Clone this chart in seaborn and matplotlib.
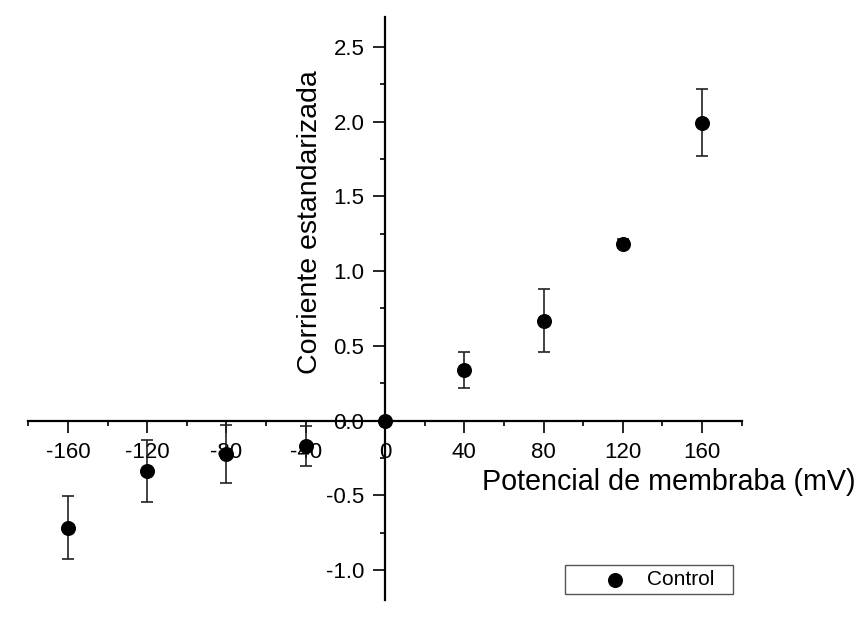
import matplotlib
matplotlib.use("Agg")
import matplotlib.pyplot as plt
import numpy as np
import pandas as pd
import seaborn as sns

# ---- data ----
potencial = [-160, -120, -80, -40, 0, 40, 80, 120, 160]
corriente = [-0.717, -0.338, -0.226, -0.168, 0.0, 0.338, 0.668, 1.181, 1.992]
error = [0.212, 0.21, 0.195, 0.134, 0.0, 0.122, 0.21, 0.03, 0.224]

x_ticks = [-160, -120, -80, -40, 0, 40, 80, 120, 160]
x_tick_labels = ["-160", "-120", "-80", "-40", "0", "40", "80", "120", "160"]
y_ticks = [-1.0, -0.5, 0.0, 0.5, 1.0, 1.5, 2.0, 2.5]
y_tick_labels = ["-1.0", "-0.5", "0.0", "0.5", "1.0", "1.5", "2.0", "2.5"]

sns.set_style("ticks")
plt.rcParams["font.family"] = ["Liberation Sans", "DejaVu Sans"]
plt.rcParams["axes.unicode_minus"] = False

fig = plt.figure(figsize=(8.56, 6.29), dpi=100)
fig.patch.set_facecolor("white")
ax = fig.add_axes([0.03306, 0.04626, 0.8334, 0.92695])
ax.set_facecolor("white")

df = pd.DataFrame({"potencial": potencial, "corriente": corriente, "error": error})

ax.errorbar(df["potencial"], df["corriente"], yerr=df["error"], fmt="none",
            ecolor="#222222", elinewidth=1.2, capsize=4.3, capthick=1.2,
            zorder=3, clip_on=False)
sns.scatterplot(data=df, x="potencial", y="corriente", color="black", s=117,
                linewidth=0, label="Control", zorder=4, clip_on=False, ax=ax)

ax.set_xlim(-180, 180)
ax.set_ylim(-1.2, 2.7)

for side in ["top", "right"]:
    ax.spines[side].set_visible(False)
ax.spines["left"].set_position(("data", 0))
ax.spines["bottom"].set_position(("data", 0))
for side in ["left", "bottom"]:
    ax.spines[side].set_linewidth(1.6)
    ax.spines[side].set_color("black")
    ax.spines[side].set_zorder(2.5)

ax.set_xticks(x_ticks)
ax.set_xticklabels(x_tick_labels)
ax.set_yticks(y_ticks)
ax.set_yticklabels(y_tick_labels)
ax.xaxis.set_minor_locator(matplotlib.ticker.MultipleLocator(20))
ax.yaxis.set_minor_locator(matplotlib.ticker.MultipleLocator(0.25))

ax.tick_params(which="major", direction="out", length=8.3, width=1.2,
               color="black", labelsize=16, labelcolor="black")
ax.tick_params(which="minor", direction="out", length=3.6, width=1.2, color="black")
ax.tick_params(axis="x", which="major", pad=7)
ax.tick_params(axis="y", which="major", pad=6.5)

ax.set_xlabel("Potencial de membraba (mV)", fontsize=20.7, ha="left",
              va="baseline", color="black")
ax.xaxis.set_label_coords(0.636, 0.1885)
ax.set_ylabel("Corriente estandarizada", fontsize=20.5, ha="center",
              va="baseline", color="black")
ax.yaxis.set_label_coords(0.4047, 0.648)

leg = ax.legend(loc="upper left", bbox_to_anchor=(0.660, 0.0493, 0.1963, 0.0524),
                bbox_transform=fig.transFigure, mode="expand", borderaxespad=0,
                frameon=True, fancybox=False, edgecolor="#555555", framealpha=1,
                fontsize=15, handlelength=4.3, handletextpad=-0.615,
                borderpad=0.25, scatterpoints=1)
leg.get_frame().set_linewidth(1.0)
for t in leg.get_texts():
    t.set_color("black")

fig.savefig("out.png", dpi=100, facecolor="white")
